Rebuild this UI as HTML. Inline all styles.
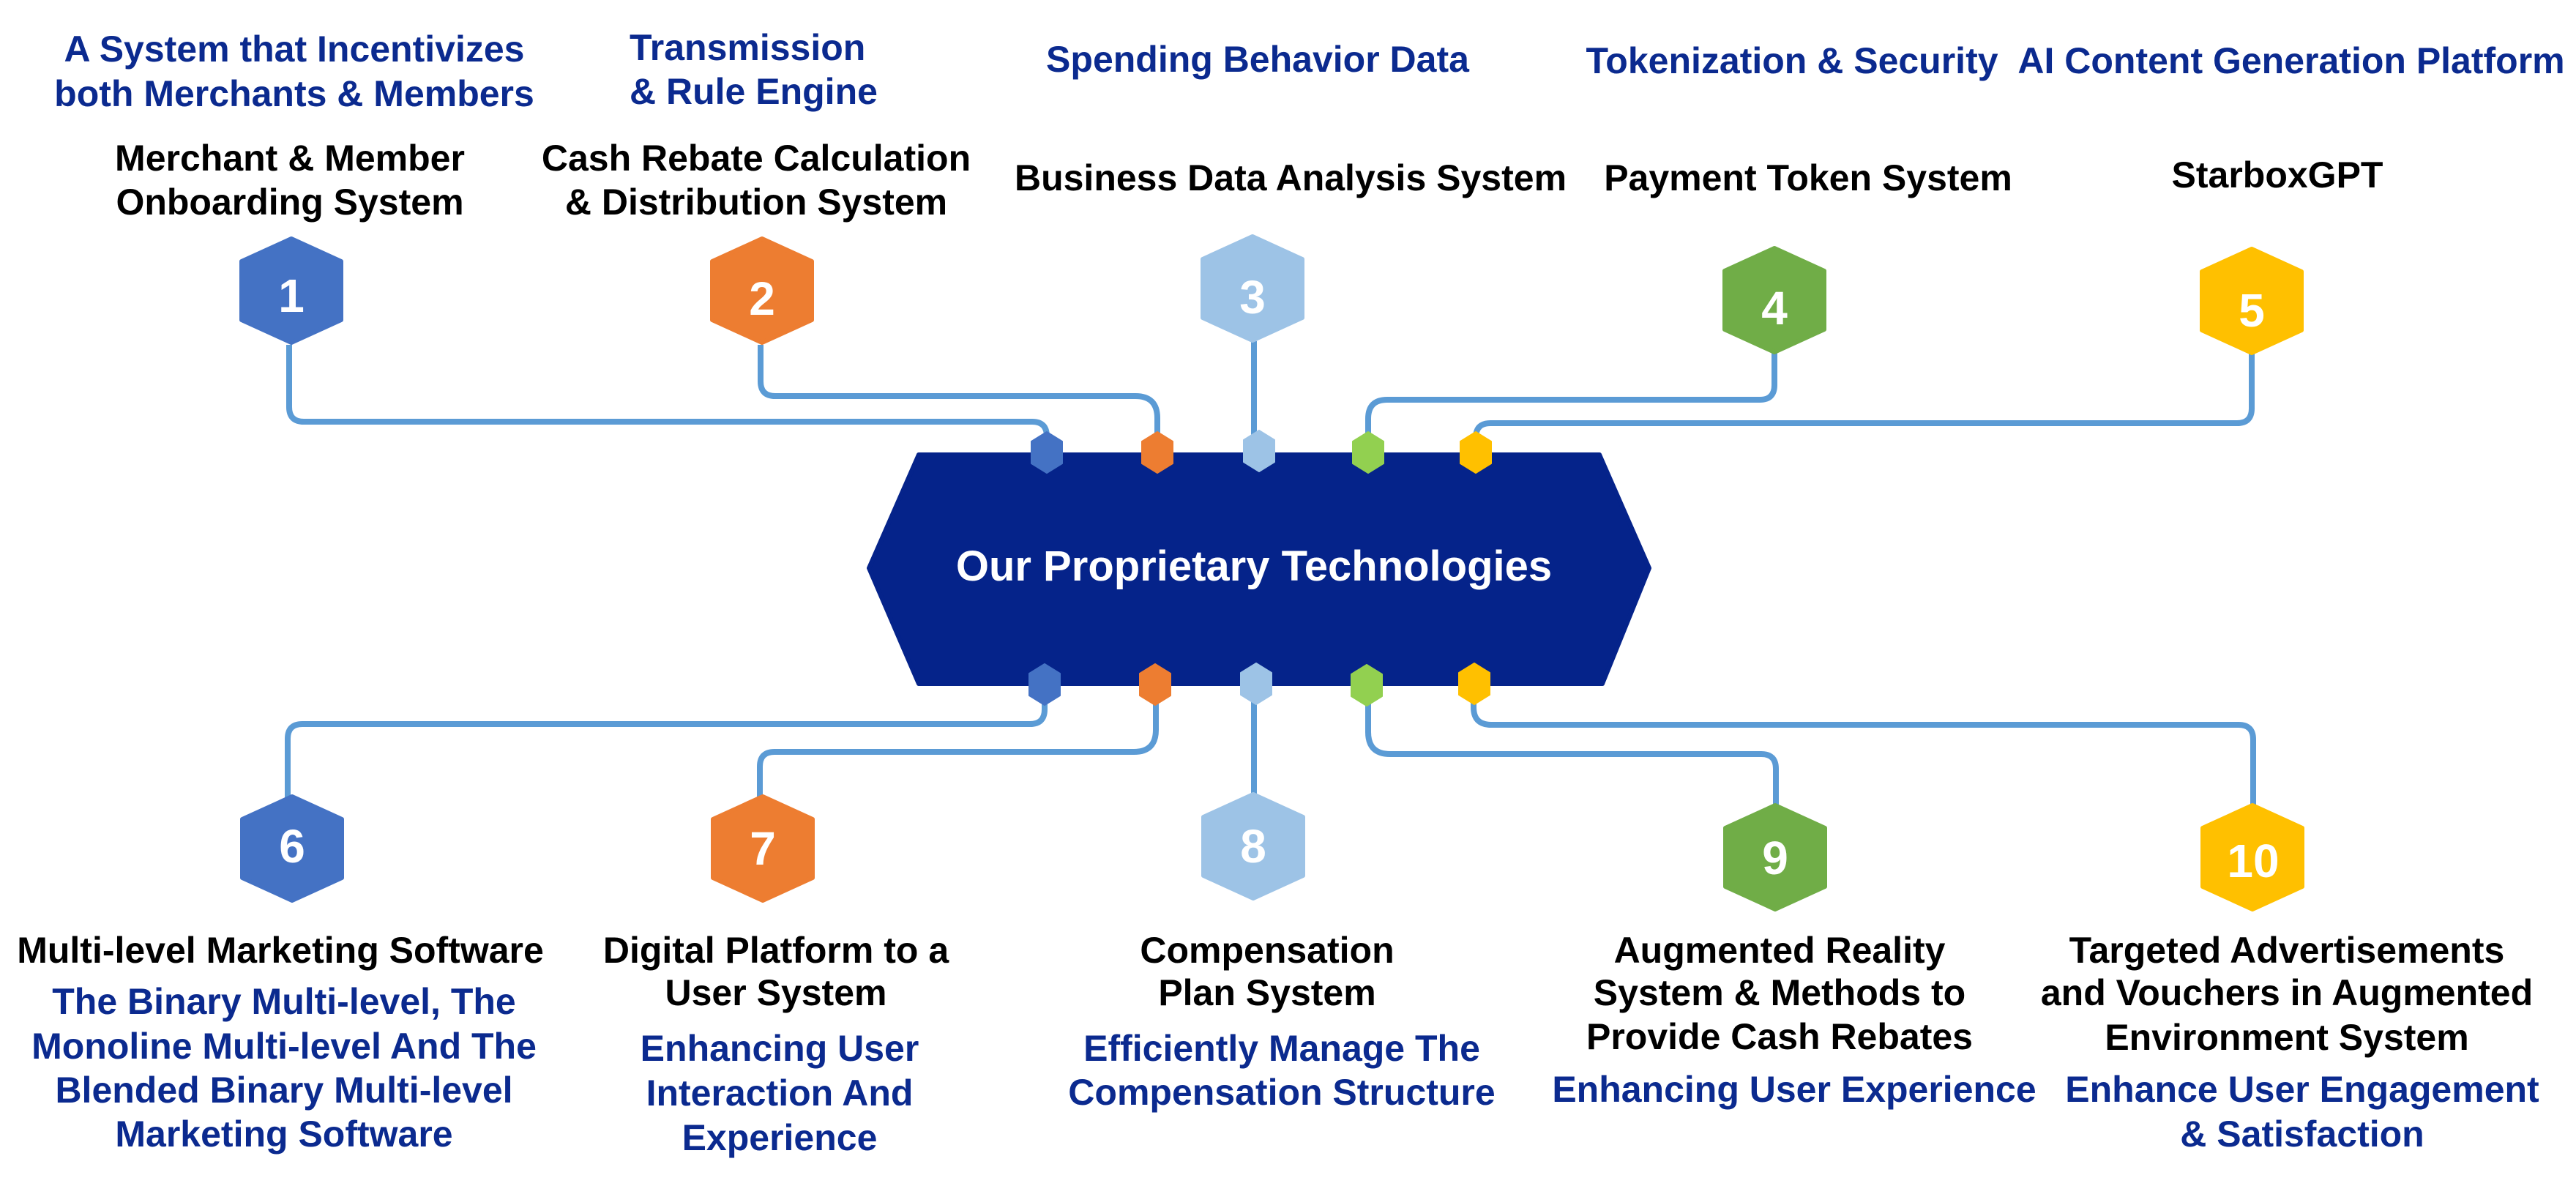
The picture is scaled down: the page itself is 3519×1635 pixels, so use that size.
<!DOCTYPE html>
<html>
<head>
<meta charset="utf-8">
<style>
  html, body { margin:0; padding:0; background:#ffffff; }
  body { width:3519px; height:1635px; overflow:hidden; }
  svg { display:block; }
  .t { font-family:"Liberation Sans", Arial, sans-serif; font-weight:bold; font-size:50px; }
  .blk { fill:#000000; }
  .blu { fill:#0b2a8f; }
  .num { font-family:"Liberation Sans", Arial, sans-serif; font-weight:bold; font-size:64px; fill:#ffffff; text-anchor:middle; }
  .con { fill:none; stroke:#5b9bd5; stroke-width:8; stroke-linecap:butt; stroke-linejoin:round; }
</style>
</head>
<body>
<svg width="3519" height="1635" viewBox="0 0 3519 1635" xmlns="http://www.w3.org/2000/svg">
  <defs>
    <polygon id="bighex" points="0,-71 68,-40 68,40 0,71 -68,40 -68,-40" stroke-width="6" stroke-linejoin="round"/>
    <polygon id="smhex" points="0,-28 21,-15 21,15 0,28 -21,15 -21,-15" stroke-width="2" stroke-linejoin="round"/>
  </defs>

  <!-- Connectors (top) -->
  <path class="con" d="M395 471 V556 Q395 576 415 576 H1410 Q1430 576 1430 596 V610"/>
  <path class="con" d="M1039 471 V521 Q1039 541 1059 541 H1551 Q1581 541 1581 571 V610"/>
  <path class="con" d="M1713 466 V610"/>
  <path class="con" d="M1869 610 V572 Q1869 546 1895 546 H2404 Q2424 546 2424 526 V482"/>
  <path class="con" d="M2016 610 V598 Q2016 578 2036 578 H3056 Q3076 578 3076 558 V483"/>

  <!-- Connectors (bottom) -->
  <path class="con" d="M1427 940 V969 Q1427 989 1407 989 H413 Q393 989 393 1009 V1090"/>
  <path class="con" d="M1579 940 V997 Q1579 1027 1549 1027 H1058 Q1038 1027 1038 1047 V1090"/>
  <path class="con" d="M1713 940 V1088"/>
  <path class="con" d="M1869 940 V1000 Q1869 1030 1899 1030 H2406 Q2426 1030 2426 1050 V1100"/>
  <path class="con" d="M2013 940 V966 Q2013 990 2037 990 H3058 Q3078 990 3078 1010 V1100"/>

  <!-- Central shape -->
  <polygon points="1255,621 2185,621 2253,776 2189,934 1255,934 1187,776" fill="#05238a" stroke="#05238a" stroke-width="6" stroke-linejoin="round"/>
  <text x="1713" y="793" text-anchor="middle" font-family="'Liberation Sans', Arial, sans-serif" font-weight="bold" font-size="58" fill="#ffffff">Our Proprietary Technologies</text>

  <!-- Small hexes top -->
  <use href="#smhex" x="1430" y="618" fill="#4472c4" stroke="#4472c4"/>
  <use href="#smhex" x="1581" y="618" fill="#ed7d31" stroke="#ed7d31"/>
  <use href="#smhex" x="1720" y="616" fill="#9dc3e6" stroke="#9dc3e6"/>
  <use href="#smhex" x="1869" y="618" fill="#92d050" stroke="#92d050"/>
  <use href="#smhex" x="2016" y="618" fill="#ffc000" stroke="#ffc000"/>

  <!-- Small hexes bottom -->
  <use href="#smhex" x="1427" y="935" fill="#4472c4" stroke="#4472c4"/>
  <use href="#smhex" x="1578" y="935" fill="#ed7d31" stroke="#ed7d31"/>
  <use href="#smhex" x="1716" y="934" fill="#9dc3e6" stroke="#9dc3e6"/>
  <use href="#smhex" x="1867" y="936" fill="#92d050" stroke="#92d050"/>
  <use href="#smhex" x="2014" y="934" fill="#ffc000" stroke="#ffc000"/>

  <!-- Big hexes -->
  <use href="#bighex" x="398" y="397" fill="#4472c4" stroke="#4472c4"/>
  <use href="#bighex" x="1041" y="397" fill="#ed7d31" stroke="#ed7d31"/>
  <use href="#bighex" x="1711" y="394" fill="#9dc3e6" stroke="#9dc3e6"/>
  <use href="#bighex" x="2424" y="410" fill="#70ad47" stroke="#70ad47"/>
  <use href="#bighex" x="3076" y="411" fill="#ffc000" stroke="#ffc000"/>
  <use href="#bighex" x="399" y="1159" fill="#4472c4" stroke="#4472c4"/>
  <use href="#bighex" x="1042" y="1159" fill="#ed7d31" stroke="#ed7d31"/>
  <use href="#bighex" x="1712" y="1156" fill="#9dc3e6" stroke="#9dc3e6"/>
  <use href="#bighex" x="2425" y="1171" fill="#70ad47" stroke="#70ad47"/>
  <use href="#bighex" x="3077" y="1171" fill="#ffc000" stroke="#ffc000"/>

  <!-- Numbers -->
  <text class="num" x="398" y="426">1</text>
  <text class="num" x="1041" y="430">2</text>
  <text class="num" x="1711" y="428">3</text>
  <text class="num" x="2424" y="443">4</text>
  <text class="num" x="3076" y="446">5</text>
  <text class="num" x="399" y="1178">6</text>
  <text class="num" x="1042" y="1181">7</text>
  <text class="num" x="1712" y="1178">8</text>
  <text class="num" x="2425" y="1194">9</text>
  <text class="num" x="3078" y="1198">10</text>

  <!-- Top blue labels -->
  <text class="t blu" x="402" y="84" text-anchor="middle">A System that Incentivizes</text>
  <text class="t blu" x="402" y="145" text-anchor="middle">both Merchants &amp; Members</text>
  <text class="t blu" x="860" y="82">Transmission</text>
  <text class="t blu" x="860" y="142">&amp; Rule Engine</text>
  <text class="t blu" x="1718" y="98" text-anchor="middle">Spending Behavior Data</text>
  <text class="t blu" x="2448" y="100" text-anchor="middle">Tokenization &amp; Security</text>
  <text class="t blu" x="3130" y="100" text-anchor="middle">AI Content Generation Platform</text>

  <!-- Top black labels -->
  <text class="t blk" x="396" y="233" text-anchor="middle">Merchant &amp; Member</text>
  <text class="t blk" x="396" y="293" text-anchor="middle">Onboarding System</text>
  <text class="t blk" x="1033" y="233" text-anchor="middle">Cash Rebate Calculation</text>
  <text class="t blk" x="1033" y="293" text-anchor="middle">&amp; Distribution System</text>
  <text class="t blk" x="1763" y="260" text-anchor="middle">Business Data Analysis System</text>
  <text class="t blk" x="2470" y="260" text-anchor="middle">Payment Token System</text>
  <text class="t blk" x="3111" y="256" text-anchor="middle">StarboxGPT</text>

  <!-- Bottom label 6 -->
  <text class="t blk" x="383" y="1315" text-anchor="middle">Multi-level Marketing Software</text>
  <text class="t blu" x="388" y="1385" text-anchor="middle">The Binary Multi-level, The</text>
  <text class="t blu" x="388" y="1446" text-anchor="middle">Monoline Multi-level And The</text>
  <text class="t blu" x="388" y="1506" text-anchor="middle">Blended Binary Multi-level</text>
  <text class="t blu" x="388" y="1566" text-anchor="middle">Marketing Software</text>

  <!-- Bottom label 7 -->
  <text class="t blk" x="1060" y="1315" text-anchor="middle">Digital Platform to a</text>
  <text class="t blk" x="1060" y="1373" text-anchor="middle">User System</text>
  <text class="t blu" x="1065" y="1449" text-anchor="middle">Enhancing User</text>
  <text class="t blu" x="1065" y="1510" text-anchor="middle">Interaction And</text>
  <text class="t blu" x="1065" y="1571" text-anchor="middle">Experience</text>

  <!-- Bottom label 8 -->
  <text class="t blk" x="1731" y="1315" text-anchor="middle">Compensation</text>
  <text class="t blk" x="1731" y="1373" text-anchor="middle">Plan System</text>
  <text class="t blu" x="1751" y="1449" text-anchor="middle">Efficiently Manage The</text>
  <text class="t blu" x="1751" y="1509" text-anchor="middle">Compensation Structure</text>

  <!-- Bottom label 9 -->
  <text class="t blk" x="2431" y="1315" text-anchor="middle">Augmented Reality</text>
  <text class="t blk" x="2431" y="1373" text-anchor="middle">System &amp; Methods to</text>
  <text class="t blk" x="2431" y="1433" text-anchor="middle">Provide Cash Rebates</text>
  <text class="t blu" x="2451" y="1505" text-anchor="middle">Enhancing User Experience</text>

  <!-- Bottom label 10 -->
  <text class="t blk" x="3124" y="1315" text-anchor="middle">Targeted Advertisements</text>
  <text class="t blk" x="3124" y="1373" text-anchor="middle">and Vouchers in Augmented</text>
  <text class="t blk" x="3124" y="1434" text-anchor="middle">Environment System</text>
  <text class="t blu" x="3145" y="1505" text-anchor="middle">Enhance User Engagement</text>
  <text class="t blu" x="3145" y="1566" text-anchor="middle">&amp; Satisfaction</text>
</svg>
</body>
</html>
